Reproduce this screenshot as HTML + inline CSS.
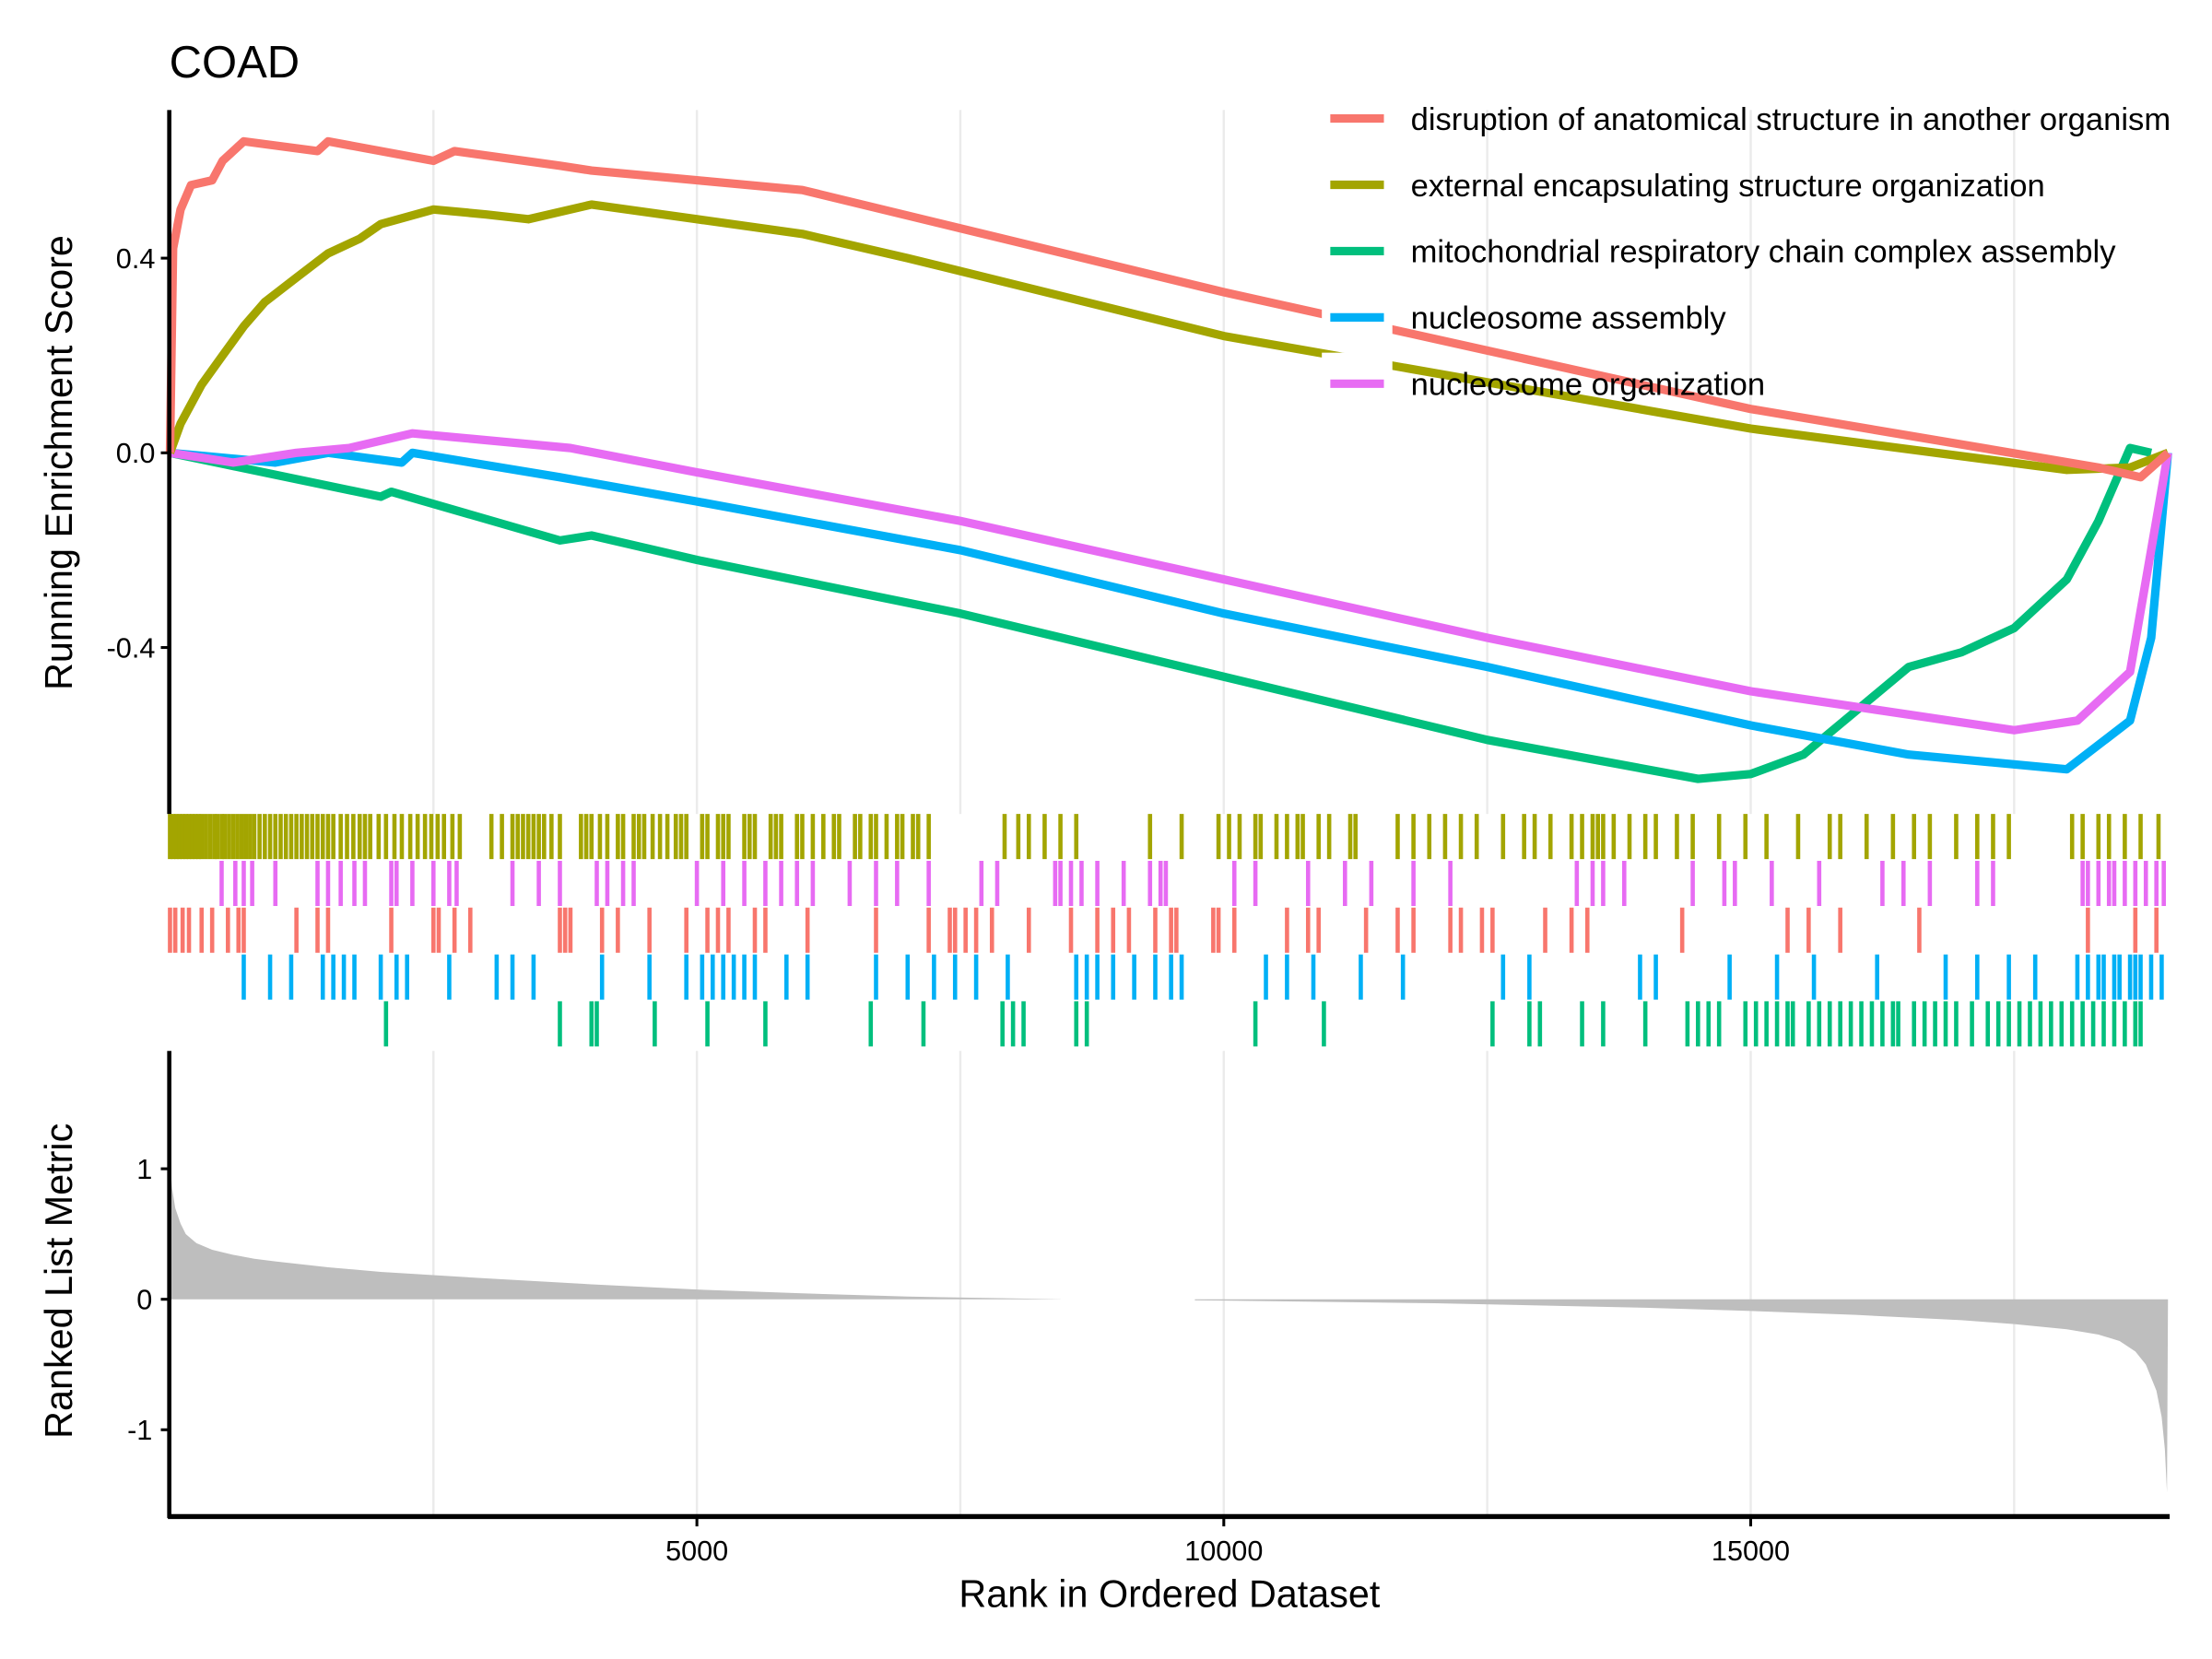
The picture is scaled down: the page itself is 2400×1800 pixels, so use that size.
<!DOCTYPE html>
<html><head><meta charset="utf-8"><style>
html,body{margin:0;padding:0;background:#fff;}
svg{display:block;font-family:"Liberation Sans",sans-serif;}
</style></head><body>
<svg id="chart" width="2400" height="1800" viewBox="0 0 1568 1176" xmlns="http://www.w3.org/2000/svg">
<rect width="1568" height="1176" fill="#fff"/>
<g id="grid"></g>
<g id="curves"></g>
<g id="ticks"></g>
<g id="metric"></g>
<g id="axes"></g>
<g id="legend"></g>
</svg>
<script>
const names=["disruption of anatomical structure in another organism","external encapsulating structure organization","mitochondrial respiratory chain complex assembly","nucleosome assembly","nucleosome organization"];
const colors=["#F8766D","#A3A500","#00BF7D","#00B0F6","#E76BF3"];
const xTicks=[5000,10000,15000];
const xGrid=[2500,5000,7500,10000,12500,15000,17500];
const esTicks=[0.4,0,-0.4];
const esTickLabels=["0.4","0.0","-0.4"];
const metricTicks=[1,0,-1];
const metricTickLabels=["1","0","-1"];
const redRank=[0,30,100,200,400,500,700,1400,1500,2500,2700,3700,4000,5000,6000,10000,15000,18300,18700,18960];
const redES=[0,0.42,0.5,0.55,0.56,0.6,0.64,0.62,0.64,0.6,0.62,0.59,0.58,0.56,0.54,0.33,0.09,-0.03,-0.05,0];
const oliveRank=[0,100,300,500,700,900,1200,1500,1800,2000,2500,3000,3400,4000,5000,6000,7000,10000,15000,18000,18600,18960];
const oliveES=[0,0.06,0.14,0.2,0.26,0.31,0.36,0.41,0.44,0.47,0.5,0.49,0.48,0.51,0.48,0.45,0.4,0.24,0.05,-0.035,-0.03,0];
const greenRank=[0,2000,2100,3700,4000,5000,7500,10000,12500,14500,15000,15500,16000,16500,17000,17500,18000,18300,18600,18800];
const greenES=[0,-0.09,-0.08,-0.18,-0.17,-0.22,-0.33,-0.46,-0.59,-0.67,-0.66,-0.62,-0.53,-0.44,-0.41,-0.36,-0.26,-0.14,0.01,0];
const blueRank=[0,1000,1500,2200,2300,3700,5000,7500,10000,12500,15000,16500,18000,18600,18800,18960];
const blueES=[0,-0.02,0,-0.02,0,-0.05,-0.1,-0.2,-0.33,-0.44,-0.56,-0.62,-0.65,-0.55,-0.38,0];
const magRank=[0,600,1200,1700,2300,2800,3800,5000,7500,10000,12500,15000,17500,18100,18600,18960];
const magES=[0,-0.02,0,0.01,0.04,0.03,0.01,-0.04,-0.14,-0.26,-0.38,-0.49,-0.57,-0.55,-0.45,0];
const oliveHits=[0,30,60,90,120,150,180,210,240,270,300,340,380,420,450,490,520,560,600,640,680,720,760,800,850,900,950,1000,1050,1100,1150,1200,1250,1300,1350,1400,1450,1500,1550,1620,1680,1740,1800,1850,1900,1980,2050,2130,2200,2280,2350,2420,2480,2540,2600,2680,2750,3050,3150,3250,3300,3350,3400,3450,3500,3550,3620,3700,3900,3950,4000,4080,4150,4250,4300,4400,4450,4500,4580,4650,4720,4800,4850,4900,5050,5100,5200,5250,5300,5450,5500,5550,5700,5750,5800,5950,6000,6100,6200,6300,6350,6500,6550,6650,6700,6800,6900,6950,7050,7100,7200,7920,8050,8150,8300,8450,8600,9300,9600,9950,10050,10150,10300,10350,10500,10600,10700,10750,10900,11000,11200,11250,11650,11800,11950,12100,12250,12400,12650,12850,12950,13100,13300,13400,13500,13550,13600,13700,13850,14000,14100,14300,14450,14700,14950,15150,15450,15750,15850,16100,16350,16550,16700,16950,17150,17300,17450,18050,18150,18300,18400,18550,18700,18870];
const magHits=[490,620,700,780,1000,1400,1500,1620,1750,1850,2100,2150,2300,2500,2650,2720,3250,3500,3700,4050,4150,4300,4400,5000,5250,5450,5650,5800,5950,6100,6450,6700,6900,7200,7700,7850,8400,8450,8550,8650,8800,9050,9300,9400,9450,10100,10300,10800,11150,11400,11800,12150,13350,13500,13600,13800,14450,14750,14850,15200,15650,16250,16450,16700,17150,17300,18150,18200,18300,18400,18450,18550,18650,18750,18850,18920];
const redHits=[0,50,120,180,300,400,550,650,700,1200,1400,1500,2100,2500,2550,2700,2850,3700,3750,3800,4100,4250,4550,4900,5100,5200,5300,5550,5650,6050,6700,7200,7400,7450,7550,7650,7800,8150,8550,8800,8950,9100,9350,9500,9550,9900,9950,10100,10600,10800,10900,11350,11650,11800,12150,12250,12450,12550,13050,13300,13450,14350,15350,15550,15850,16600,18200,18650,18850];
const blueHits=[700,950,1150,1450,1550,1650,1750,2000,2150,2250,2650,3100,3250,3450,4100,4550,4900,5050,5150,5250,5350,5450,5550,5850,6050,6700,7000,7250,7450,7650,7950,8600,8700,8800,8950,9150,9350,9500,9600,10400,10600,10850,11300,11700,12650,12900,13950,14100,14800,15250,15600,16200,16850,17150,17450,17700,18100,18200,18300,18350,18450,18500,18600,18650,18700,18800,18900];
const greenHits=[2050,3700,4000,4050,4600,5100,5650,6650,7150,7900,8000,8100,8600,8700,10300,10950,12550,12900,13000,13400,13600,14000,14400,14500,14600,14700,14950,15050,15150,15250,15350,15400,15550,15650,15750,15850,15950,16050,16150,16250,16350,16400,16550,16650,16750,16850,16950,17100,17250,17350,17450,17550,17650,17750,17850,17950,18050,18150,18250,18350,18450,18550,18650,18700];
const metricRank=[0,20,50,100,150,250,400,600,800,1000,1500,2000,3000,4000,5000,6000,7000,8500,10000,12000,14000,15000,16000,17000,17500,18000,18300,18500,18650,18750,18850,18900,18930,18950,18960];
const metricVal=[1.05,0.85,0.7,0.58,0.5,0.43,0.38,0.34,0.31,0.29,0.245,0.21,0.16,0.115,0.075,0.045,0.02,0.0,-0.01,-0.03,-0.065,-0.09,-0.12,-0.16,-0.19,-0.23,-0.27,-0.32,-0.4,-0.5,-0.7,-0.9,-1.15,-1.48,0];

const NS="http://www.w3.org/2000/svg";
function mk(tag,attrs,parent){const e=document.createElementNS(NS,tag);for(const k in attrs)e.setAttribute(k,attrs[k]);parent.appendChild(e);return e;}
const X=r=>120.5+r*0.0747;
const YE=v=>321-v*345;
const YM=v=>921-v*92.5;
const grid=document.getElementById('grid'),curves=document.getElementById('curves'),ticks=document.getElementById('ticks'),metric=document.getElementById('metric'),axes=document.getElementById('axes'),legend=document.getElementById('legend');

xGrid.forEach(g=>{
  const a=mk('line',{x1:X(g),x2:X(g),y1:78,y2:577,stroke:'#ebebeb','stroke-width':1.6},grid);
  
  
  const b=mk('line',{x1:X(g),x2:X(g),y1:745,y2:1075,stroke:'#ebebeb','stroke-width':1.6},grid);
  
  
});

const series=[[redRank,redES],[oliveRank,oliveES],[greenRank,greenES],[blueRank,blueES],[magRank,magES]];
const order=[2,3,4,1,0];
const snames=['es-curve-disruption','es-curve-external','es-curve-mitochondrial','es-curve-nucleosome-assembly','es-curve-nucleosome-organization'];
order.forEach(i=>{
  const [rk,es]=series[i];
  const d=rk.map((r,j)=>(j?'L':'M')+X(r).toFixed(1)+','+YE(es[j]).toFixed(1)).join('');
  const p=mk('path',{d:d,fill:'none',stroke:colors[i],'stroke-width':6,'stroke-linejoin':'round'},curves);
  
  
});

const hitRows=[[oliveHits,1],[magHits,4],[redHits,0],[blueHits,3],[greenHits,2]];
hitRows.forEach((row,k)=>{
  const y0=577+k*33.2;
  row[0].forEach(r=>{
    const l=mk('line',{x1:X(r),x2:X(r),y1:y0,y2:y0+32,stroke:colors[row[1]],'stroke-width':3},ticks);
    
    
  });
});

let md='M'+X(0)+','+YM(0);
metricRank.forEach((r,j)=>{md+='L'+X(r).toFixed(1)+','+YM(metricVal[j]).toFixed(1);});
md+='Z';
const area=mk('path',{d:md,fill:'#bebebe',stroke:'none'},metric);


const gap=mk('rect',{x:752,y:905,width:95,height:30,fill:'#fff'},metric);



const ya=mk('line',{x1:120,x2:120,y1:78,y2:577,stroke:'#000','stroke-width':3},axes);


const yb=mk('line',{x1:120,x2:120,y1:745,y2:1076,stroke:'#000','stroke-width':3},axes);


const xa=mk('line',{x1:119,x2:1538,y1:1075,y2:1075,stroke:'#000','stroke-width':3.5},axes);


esTicks.forEach((v,i)=>{
  const t=mk('line',{x1:114,x2:120,y1:YE(v),y2:YE(v),stroke:'#000','stroke-width':2},axes);
  
  
  const tx=mk('text',{x:110,y:YE(v)+7,'text-anchor':'end','font-size':20,fill:'#000'},axes);
  tx.textContent=esTickLabels[i];
  
  
});
metricTicks.forEach((v,i)=>{
  const t=mk('line',{x1:114,x2:120,y1:YM(v),y2:YM(v),stroke:'#000','stroke-width':2},axes);
  
  
  const tx=mk('text',{x:108,y:YM(v)+7,'text-anchor':'end','font-size':20,fill:'#000'},axes);
  tx.textContent=metricTickLabels[i];
  
  
});
xTicks.forEach(v=>{
  const t=mk('line',{x1:X(v),x2:X(v),y1:1076,y2:1082,stroke:'#000','stroke-width':2},axes);
  
  
  const tx=mk('text',{x:X(v),y:1106,'text-anchor':'middle','font-size':20,fill:'#000'},axes);
  tx.textContent=String(v);
  
  
});

names.forEach((n,i)=>{
  const y=84+i*47;
  const bg=mk('rect',{x:937,y:y-22,width:50,height:44,fill:'#fff'},legend);
  
  
  const k=mk('line',{x1:943,x2:981,y1:y,y2:y,stroke:colors[i],'stroke-width':6},legend);
  
  
  const t=mk('text',{x:1000,y:y+8,'font-size':22.6,fill:'#000'},legend);
  t.textContent=n;
  
  
});
</script>
<svg style="position:absolute;left:0;top:0" width="2400" height="1800" viewBox="0 0 1568 1176" xmlns="http://www.w3.org/2000/svg">
<text x="120" y="55" font-size="32" fill="#000" font-family="Liberation Sans, sans-serif">COAD</text>
<text x="0" y="0" transform="translate(51,328) rotate(-90)" text-anchor="middle" font-size="27" fill="#000" font-family="Liberation Sans, sans-serif">Running Enrichment Score</text>
<text x="0" y="0" transform="translate(51,908) rotate(-90)" text-anchor="middle" font-size="27" fill="#000" font-family="Liberation Sans, sans-serif">Ranked List Metric</text>
<text x="829" y="1139" text-anchor="middle" font-size="27" fill="#000" font-family="Liberation Sans, sans-serif">Rank in Ordered Dataset</text>
</svg>
</body></html>
